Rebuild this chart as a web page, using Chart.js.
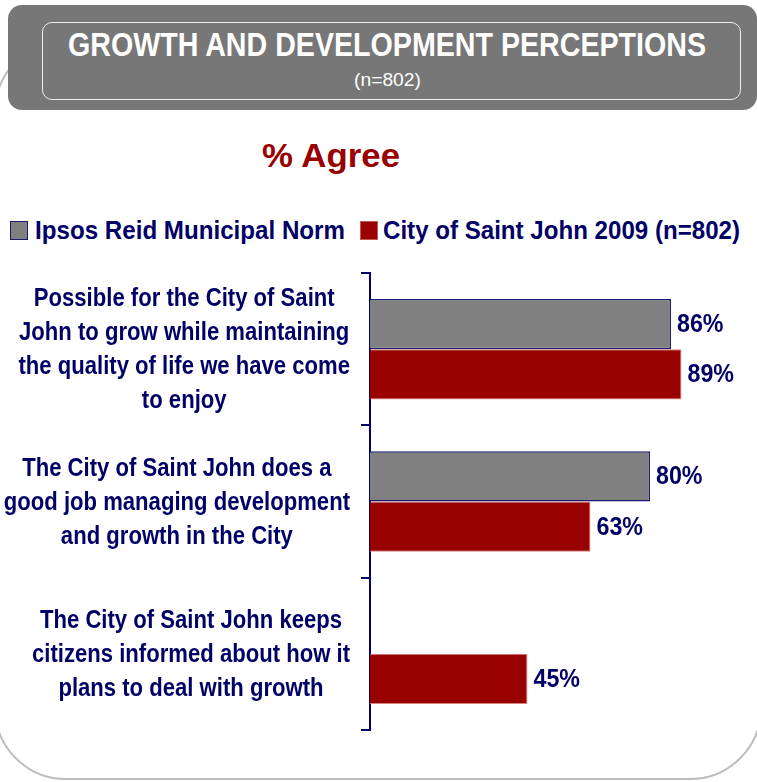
<!DOCTYPE html>
<html>
<head>
<meta charset="utf-8">
<script src="https://cdn.jsdelivr.net/npm/chart.js@4.4.1/dist/chart.umd.min.js"></script>
<style>
  html, body { margin: 0; padding: 0; background: #fff; }
  body { width: 757px; height: 782px; position: relative; overflow: hidden;
         font-family: "Liberation Sans", Arial, sans-serif; }
  #frame { position: absolute; left: -6px; top: 40px; width: 764px; height: 736px;
           border: 2px solid #bdbdbd; border-radius: 72px; }
  #titleBox { position: absolute; left: 8px; top: 5px; width: 749px; height: 105px;
              background: #777; border-radius: 14px; }
  #titleInner { position: absolute; left: 42px; top: 22px; width: 699px; height: 78px;
                border: 1.5px solid #eee; border-radius: 10px; box-sizing: border-box; }
  .fit { position: absolute; white-space: nowrap; transform-origin: 0 0; }
  #title { color: #fff; font-weight: bold; font-size: 33px; top: 26px; }
  #sub { color: #fff; font-size: 19px; top: 69px; }
  #agree { color: #990000; font-weight: bold; font-size: 34px; top: 136px; }
  .leg { color: #000066; font-weight: bold; font-size: 25px; top: 216px; }
  .sw { position: absolute; width: 18px; height: 19px; top: 221px; box-sizing: border-box; }
  #chartWrap { position: absolute; left: 0; top: 0; width: 757px; height: 782px; }
</style>
</head>
<body>
<div id="frame"></div>
<div id="titleBox"></div>
<div id="titleInner"></div>
<div id="title" class="fit" data-x="68" data-w="638">GROWTH AND DEVELOPMENT PERCEPTIONS</div>
<div id="sub" class="fit" data-x="354" data-w="67">(n=802)</div>
<div id="agree" class="fit" data-x="262" data-w="138">% Agree</div>
<div class="sw" style="left:10px;background:#808080;border:1.5px solid #1a1a6e"></div>
<div id="leg0" class="leg fit" data-x="35" data-w="310"></div>
<div class="sw" style="left:360px;background:#990000;border:1px solid #cc5555"></div>
<div id="leg1" class="leg fit" data-x="383" data-w="357"></div>
<div id="chartWrap"><canvas id="chart" width="757" height="782"></canvas></div>
<script>
// Category labels, one entry per wrapped line
const categories = [
    ['Possible for the City of Saint', 'John to grow while maintaining', 'the quality of life we have come', 'to enjoy'],
    ['The City of Saint John does a', 'good job managing development', 'and growth in the City'],
    ['The City of Saint John keeps', 'citizens informed about how it', 'plans to deal with growth']
];
const seriesNames = ['Ipsos Reid Municipal Norm', 'City of Saint John 2009 (n=802)'];
const normValues = [86, 80, null];
const cityValues = [89, 63, 45];

const navy = '#000066';
const fontFamily = '"Liberation Sans", Arial, sans-serif';
const narrow = 0.85; // the original uses a condensed face

document.getElementById('leg0').textContent = seriesNames[0];
document.getElementById('leg1').textContent = seriesNames[1];

// squeeze html texts to the width they take in the original
document.querySelectorAll('.fit').forEach(el => {
    const w = el.getBoundingClientRect().width;
    el.style.left = el.dataset.x + 'px';
    el.style.transform = 'scaleX(' + (el.dataset.w / w) + ')';
});

// Category labels drawn condensed next to the axis
const categoryLabels = {
    id: 'categoryLabels',
    afterDraw(chart) {
        const ctx = chart.ctx;
        const scale = chart.scales.y;
        ctx.save();
        ctx.fillStyle = navy;
        ctx.font = 'bold 26px ' + fontFamily;
        ctx.textAlign = 'center';
        ctx.textBaseline = 'middle';
        const lineH = 34;
        chart.data.labels.forEach((lines, i) => {
            const yc = scale.getPixelForTick(i);
            const widest = Math.max(...lines.map(l => ctx.measureText(l).width)) * narrow;
            const cx = scale.right - 20 - widest / 2;
            lines.forEach((line, k) => {
                const y = yc + (k - (lines.length - 1) / 2) * lineH;
                ctx.save();
                ctx.translate(cx, y);
                ctx.scale(narrow, 1);
                ctx.fillText(line, 0, 1);
                ctx.restore();
            });
        });
        ctx.restore();
    }
};

// Value labels at the end of every bar
const valueLabels = {
    id: 'valueLabels',
    afterDatasetsDraw(chart) {
        const ctx = chart.ctx;
        ctx.save();
        ctx.fillStyle = navy;
        ctx.font = 'bold 25px ' + fontFamily;
        ctx.textBaseline = 'middle';
        ctx.textAlign = 'left';
        chart.data.datasets.forEach((ds, i) => {
            chart.getDatasetMeta(i).data.forEach((bar, j) => {
                const v = ds.data[j];
                if (v == null) return;
                ctx.save();
                ctx.translate(bar.x + 6, bar.y + 1);
                ctx.scale(0.93, 1);
                ctx.fillText(v + '%', 0, 0);
                ctx.restore();
            });
        });
        ctx.restore();
    }
};

new Chart(document.getElementById('chart'), {
    type: 'bar',
    data: {
        labels: categories,
        datasets: [
            {
                label: seriesNames[0],
                data: normValues,
                backgroundColor: '#808080',
                borderColor: '#1a1a6e',
                borderWidth: 1.5,
                borderSkipped: 'left',
                categoryPercentage: 0.66,
                barPercentage: 1.0
            },
            {
                label: seriesNames[1],
                data: cityValues,
                backgroundColor: '#990000',
                borderColor: '#d98080',
                borderWidth: 1,
                borderSkipped: 'left',
                categoryPercentage: 0.66,
                barPercentage: 1.0
            }
        ]
    },
    options: {
        indexAxis: 'y',
        responsive: false,
        animation: false,
        layout: { padding: { top: 273, bottom: 52, right: 37, left: 0 } },
        plugins: {
            legend: { display: false },
            tooltip: { enabled: false }
        },
        scales: {
            x: { display: false, min: 0, max: 100 },
            y: {
                afterFit(scale) { scale.width = 370; },
                border: { display: true, color: navy, width: 2 },
                grid: { drawOnChartArea: false, tickLength: 9, color: navy, lineWidth: 2, offset: true },
                ticks: { display: false }
            }
        }
    },
    plugins: [valueLabels, categoryLabels]
});
</script>
</body>
</html>
